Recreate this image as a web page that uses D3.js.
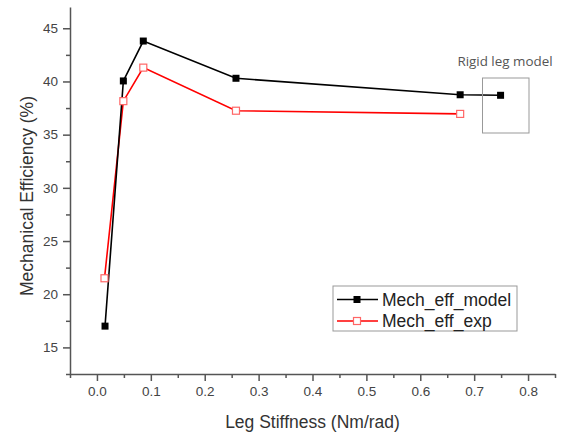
<!DOCTYPE html>
<html>
<head>
<meta charset="utf-8">
<script src="https://cdn.jsdelivr.net/npm/d3@7"></script>
<style>
  body { margin: 0; background: #fff; }
  svg { display: block; font-family: "Liberation Sans", Arial, sans-serif; }
  .axis path, .axis line { stroke: #555; stroke-width: 1.5; }
  .axis text { fill: #444; font-size: 13.5px; }
</style>
</head>
<body>
<svg width="562" height="435"></svg>
<script>
const stiffness = [0.015, 0.049, 0.086, 0.258, 0.674, 0.749],
      effModel = [17.0, 40.05, 43.8, 40.3, 38.75, 38.7];

const stiffnessExp = [0.014, 0.049, 0.086, 0.258, 0.674],
      effExp = [21.5, 38.15, 41.3, 37.25, 36.95];

const xTicks = [0.0, 0.1, 0.2, 0.3, 0.4, 0.5, 0.6, 0.7, 0.8],
      yTicks = [15, 20, 25, 30, 35, 40, 45];

const seriesNames = ['Mech_eff_model', 'Mech_eff_exp'];

let svg = d3.select("svg"),
    margin = {left: 70, top: 7, right: 7, bottom: 61},
    width = +svg.attr("width") - margin.left - margin.right,
    height = +svg.attr("height") - margin.top - margin.bottom;

let x = d3.scaleLinear().domain([-0.05, 0.85]).range([margin.left, margin.left + width]);
let y = d3.scaleLinear().domain([12.5, 47]).range([margin.top + height, margin.top]);

// minor ticks first, majors on top
svg.append("g")
    .attr("class", "axis")
    .attr("transform", `translate(0,${margin.top + height})`)
    .call(d3.axisBottom(x).tickValues(d3.range(-0.05, 0.86, 0.1)).tickSize(4).tickFormat(""))
    .select(".domain").remove();

svg.append("g")
    .attr("class", "axis")
    .attr("transform", `translate(${margin.left},0)`)
    .call(d3.axisLeft(y).tickValues(d3.range(12.5, 47, 5)).tickSize(4).tickFormat(""))
    .select(".domain").remove();

svg.append("g")
    .attr("class", "axis")
    .attr("transform", `translate(0,${margin.top + height})`)
    .call(d3.axisBottom(x).tickValues(xTicks).tickSize(7).tickSizeOuter(0).tickPadding(5).tickFormat(d3.format(".1f")));

svg.append("g")
    .attr("class", "axis")
    .attr("transform", `translate(${margin.left},0)`)
    .call(d3.axisLeft(y).tickValues(yTicks).tickSize(7).tickSizeOuter(0).tickPadding(5));

svg.append("text")
    .attr("x", margin.left + width / 2)
    .attr("y", 428)
    .attr("text-anchor", "middle")
    .attr("font-size", "17.5px")
    .attr("fill", "#333")
    .text("Leg Stiffness (Nm/rad)");

svg.append("text")
    .attr("transform", "translate(32.5,196) rotate(-90)")
    .attr("text-anchor", "middle")
    .attr("font-size", "17.5px")
    .attr("fill", "#333")
    .text("Mechanical Efficiency (%)");

const line = d3.line().x(d => x(d[0])).y(d => y(d[1]));

const model = stiffness.map((s, i) => [s, effModel[i]]),
      exp = stiffnessExp.map((s, i) => [s, effExp[i]]);

svg.append("path").datum(exp)
    .attr("d", line).attr("fill", "none").attr("stroke", "#ff0000").attr("stroke-width", 1.6);

svg.append("path").datum(model)
    .attr("d", line).attr("fill", "none").attr("stroke", "#000").attr("stroke-width", 1.6);

const ms = 7;
svg.selectAll(".mexp").data(exp).enter().append("rect")
    .attr("x", d => x(d[0]) - ms / 2).attr("y", d => y(d[1]) - ms / 2)
    .attr("width", ms).attr("height", ms)
    .attr("fill", "#fff").attr("stroke", "#ff6666").attr("stroke-width", 1.2);

svg.selectAll(".mmod").data(model).enter().append("rect")
    .attr("x", d => x(d[0]) - ms / 2).attr("y", d => y(d[1]) - ms / 2)
    .attr("width", ms).attr("height", ms)
    .attr("fill", "#000");

// rigid leg annotation
svg.append("rect")
    .attr("x", 482.5).attr("y", 78).attr("width", 46.5).attr("height", 55)
    .attr("fill", "none").attr("stroke", "#999").attr("stroke-width", 1);
svg.append("text")
    .attr("x", 505).attr("y", 66)
    .attr("text-anchor", "middle")
    .attr("font-family", "'Open Sans', sans-serif")
    .attr("font-size", "13.4px")
    .attr("fill", "#555")
    .text("Rigid leg model");

// legend
let legend = svg.append("g").attr("transform", "translate(333,286)");
legend.append("rect")
    .attr("width", 184).attr("height", 45)
    .attr("fill", "#fff").attr("stroke", "#999").attr("stroke-width", 1);

const legColors = ['#000', '#ff0000'];
seriesNames.forEach((name, i) => {
  let row = legend.append("g").attr("transform", `translate(0,${13.5 + i * 21.5})`);
  row.append("line").attr("x1", 4).attr("x2", 45).attr("y1", 0).attr("y2", 0)
      .attr("stroke", legColors[i]).attr("stroke-width", 1.6);
  row.append("rect").attr("x", 24 - ms / 2).attr("y", -ms / 2).attr("width", ms).attr("height", ms)
      .attr("fill", i === 0 ? "#000" : "#fff")
      .attr("stroke", i === 0 ? "none" : "#ff6666").attr("stroke-width", 1.2);
  row.append("text").attr("x", 49).attr("y", 6)
      .attr("font-size", "17.5px").attr("fill", "#222")
      .text(name);
});
</script>
</body>
</html>
